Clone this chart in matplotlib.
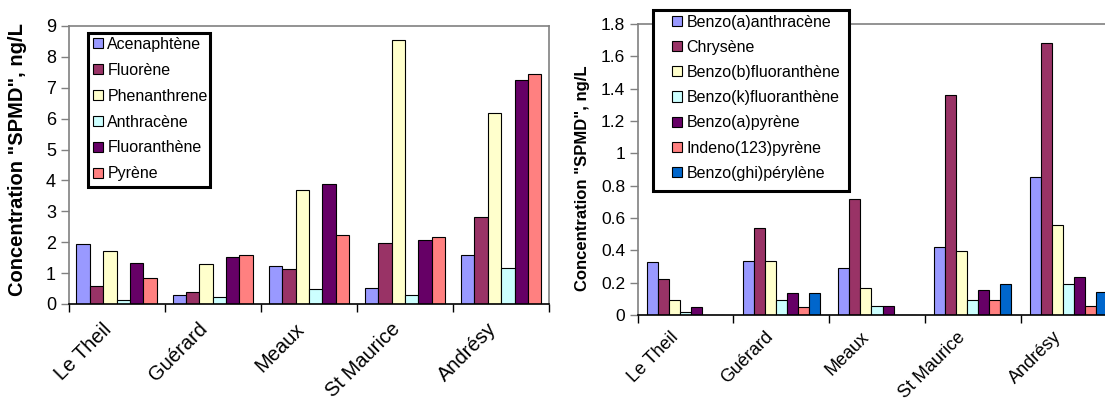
import matplotlib
matplotlib.use("Agg")
import matplotlib.pyplot as plt
from matplotlib.ticker import FixedLocator, FuncFormatter
from matplotlib.patches import Rectangle
from matplotlib.transforms import ScaledTranslation
import numpy as np

plt.rcParams['font.family'] = ['Liberation Sans', 'DejaVu Sans']

sites = ["Le Theil", "Guérard", "Meaux", "St Maurice", "Andrésy"]

# Light PAHs (ng/L)
light_names = ["Acenaphtène", "Fluorène", "Phenanthrene", "Anthracène",
               "Fluoranthène", "Pyrène"]
acenaphtene = [1.93, 0.30, 1.24, 0.51, 1.58]
fluorene = [0.59, 0.39, 1.14, 1.99, 2.81]
phenanthrene = [1.73, 1.30, 3.68, 8.56, 6.19]
anthracene = [0.14, 0.23, 0.47, 0.30, 1.18]
fluoranthene = [1.33, 1.51, 3.90, 2.06, 7.26]
pyrene = [0.83, 1.59, 2.25, 2.18, 7.46]

# Heavy PAHs (ng/L)
heavy_names = ["Benzo(a)anthracène", "Chrysène", "Benzo(b)fluoranthène",
               "Benzo(k)fluoranthène", "Benzo(a)pyrène", "Indeno(123)pyrène",
               "Benzo(ghi)pérylène"]
benzo_a_anthracene = [0.326, 0.334, 0.289, 0.419, 0.856]
chrysene = [0.22, 0.536, 0.717, 1.359, 1.68]
benzo_b_fluoranthene = [0.09, 0.334, 0.165, 0.394, 0.559]
benzo_k_fluoranthene = [0.019, 0.09, 0.054, 0.09, 0.192]
benzo_a_pyrene = [0.047, 0.138, 0.054, 0.153, 0.235]
indeno_pyrene = [0.0, 0.047, 0.0, 0.09, 0.054]
benzo_ghi_perylene = [0.0, 0.138, 0.0, 0.192, 0.144]

light_series = [acenaphtene, fluorene, phenanthrene, anthracene, fluoranthene, pyrene]
heavy_series = [benzo_a_anthracene, chrysene, benzo_b_fluoranthene,
                benzo_k_fluoranthene, benzo_a_pyrene, indeno_pyrene, benzo_ghi_perylene]

palette = ["#9999FF", "#993366", "#FFFFCC", "#CCFFFF", "#660066", "#FF8080", "#0066CC"]

W, H = 1105, 398
fig = plt.figure(figsize=(W / 100, H / 100), dpi=100)


def px_axes(x0, x1, y_top, y_bot):
    return fig.add_axes([x0 / W, (H - y_bot) / H, (x1 - x0) / W, (y_bot - y_top) / H])


def draw_panel(ax, series, names, bar_w, ymax, ystep, xfs, yfs, label_pad, label_dx):
    n = len(series)
    centers = np.arange(len(sites)) + 0.5
    handles = []
    for k, vals in enumerate(series):
        offs = (k - (n - 1) / 2) * bar_w
        b = ax.bar(centers + offs, vals, width=bar_w, color=palette[k],
                   edgecolor="black", linewidth=0.8, label=names[k], zorder=2)
        handles.append(b)
    ax.set_xlim(0, len(sites))
    ax.set_ylim(0, ymax)
    ax.yaxis.set_major_locator(FixedLocator(np.arange(0, ymax + ystep / 2, ystep)))
    ax.yaxis.set_major_formatter(FuncFormatter(lambda v, p: "%g" % round(v, 2)))
    ax.xaxis.set_major_locator(FixedLocator(np.arange(len(sites) + 1)))
    ax.xaxis.set_major_formatter(FuncFormatter(lambda v, p: ""))
    ax.xaxis.set_minor_locator(FixedLocator(centers))
    ax.set_xticklabels(sites, minor=True)
    ax.tick_params(axis="x", which="major", direction="out", length=6, width=1, color="black")
    ax.tick_params(axis="x", which="minor", length=0, pad=label_pad, labelsize=xfs)
    shift = ScaledTranslation(label_dx / 100, 0, fig.dpi_scale_trans)
    for t in ax.get_xticklabels(minor=True):
        t.set_rotation(45)
        t.set_ha("right")
        t.set_va("center")
        t.set_rotation_mode("anchor")
        t.set_transform(t.get_transform() + shift)
    ax.tick_params(axis="y", direction="out", length=6, width=1, color="#808080",
                   labelsize=yfs, pad=3)
    for s in ["top", "right", "left"]:
        ax.spines[s].set_color("#808080")
        ax.spines[s].set_linewidth(1.2)
    ax.spines["bottom"].set_color("black")
    ax.spines["bottom"].set_linewidth(1.2)
    return handles


ax1 = px_axes(68.5, 549.3, 26, 304)
h1 = draw_panel(ax1, light_series, light_names, 0.139, 9, 1, 14.5, 13, 16, -8)
ax1.set_ylabel('Concentration "SPMD", ng/L', fontsize=14.5, fontweight="bold")
ax1.yaxis.set_label_coords(-0.087, 0.518)

ax2 = px_axes(637.5, 1116.5, 24, 315)
h2 = draw_panel(ax2, heavy_series, heavy_names, 0.115, 1.8, 0.2, 13, 12.5, 14, -10)
ax2.set_ylabel('Concentration "SPMD", ng/L', fontsize=12, fontweight="bold")
ax2.yaxis.set_label_coords(-0.099, 0.47)

# Legend frames with white fill at fixed pixel extents
for (x0, y0, x1, y1) in [(88, 33, 210, 187), (653, 9.5, 849, 191)]:
    fig.patches.append(Rectangle((x0 / W, 1 - y1 / H), (x1 - x0) / W, (y1 - y0) / H,
                                 transform=fig.transFigure, facecolor="white",
                                 edgecolor="black", linewidth=2.2, zorder=4))

leg_kw = dict(loc="upper left", frameon=False, borderaxespad=0, borderpad=0,
              handlelength=0.6, handleheight=0.6, handletextpad=0.3,
              bbox_transform=fig.transFigure)
l1 = fig.legend(h1, light_names, bbox_to_anchor=(93 / W, 1 - 37 / H), fontsize=11.5,
                labelspacing=0.68, **leg_kw)
l2 = fig.legend(h2, heavy_names, bbox_to_anchor=(672 / W, 1 - 14.5 / H), fontsize=11.5,
                labelspacing=0.64, **leg_kw)
for leg in (l1, l2):
    leg.set_zorder(7)
    for h in leg.legend_handles:
        h.set_linewidth(0.8)

fig.savefig("out.png", dpi=100)
